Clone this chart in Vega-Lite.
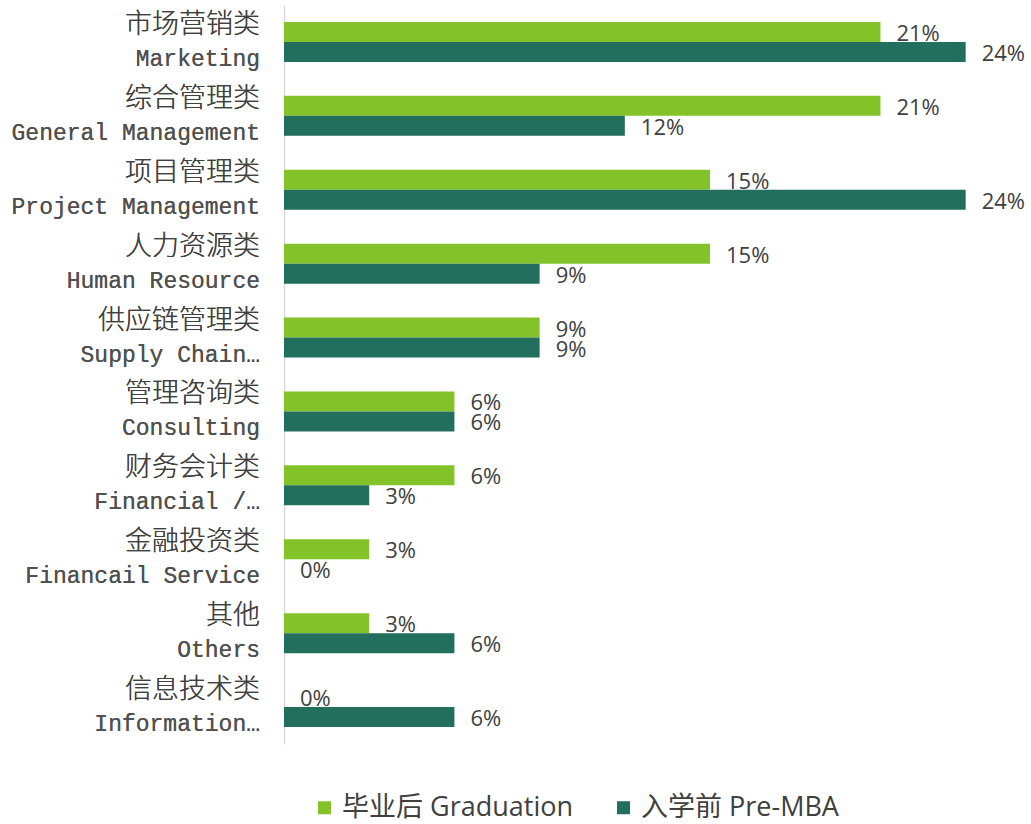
{
  "$schema": "https://vega.github.io/schema/vega-lite/v6.json",
  "width": 747,
  "height": 739,
  "autosize": {"type": "none"},
  "padding": {"left": 284, "top": 5, "right": 0, "bottom": 80},
  "background": "white",
  "config": {"view": {"stroke": null}},
  "data": {
    "values": [
      {"cn": "市场营销类", "en": "Marketing", "series": "毕业后 Graduation", "value": 0.21},
      {"cn": "市场营销类", "en": "Marketing", "series": "入学前 Pre-MBA", "value": 0.24},
      {"cn": "综合管理类", "en": "General Management", "series": "毕业后 Graduation", "value": 0.21},
      {"cn": "综合管理类", "en": "General Management", "series": "入学前 Pre-MBA", "value": 0.12},
      {"cn": "项目管理类", "en": "Project Management", "series": "毕业后 Graduation", "value": 0.15},
      {"cn": "项目管理类", "en": "Project Management", "series": "入学前 Pre-MBA", "value": 0.24},
      {"cn": "人力资源类", "en": "Human Resource", "series": "毕业后 Graduation", "value": 0.15},
      {"cn": "人力资源类", "en": "Human Resource", "series": "入学前 Pre-MBA", "value": 0.09},
      {"cn": "供应链管理类", "en": "Supply Chain…", "series": "毕业后 Graduation", "value": 0.09},
      {"cn": "供应链管理类", "en": "Supply Chain…", "series": "入学前 Pre-MBA", "value": 0.09},
      {"cn": "管理咨询类", "en": "Consulting", "series": "毕业后 Graduation", "value": 0.06},
      {"cn": "管理咨询类", "en": "Consulting", "series": "入学前 Pre-MBA", "value": 0.06},
      {"cn": "财务会计类", "en": "Financial /…", "series": "毕业后 Graduation", "value": 0.06},
      {"cn": "财务会计类", "en": "Financial /…", "series": "入学前 Pre-MBA", "value": 0.03},
      {"cn": "金融投资类", "en": "Financail Service", "series": "毕业后 Graduation", "value": 0.03},
      {"cn": "金融投资类", "en": "Financail Service", "series": "入学前 Pre-MBA", "value": 0.0},
      {"cn": "其他", "en": "Others", "series": "毕业后 Graduation", "value": 0.03},
      {"cn": "其他", "en": "Others", "series": "入学前 Pre-MBA", "value": 0.06},
      {"cn": "信息技术类", "en": "Information…", "series": "毕业后 Graduation", "value": 0.0},
      {"cn": "信息技术类", "en": "Information…", "series": "入学前 Pre-MBA", "value": 0.06}
    ]
  },
  "encoding": {
    "y": {
      "field": "cn",
      "type": "nominal",
      "sort": null,
      "scale": {"paddingInner": 0.459, "paddingOuter": 0.2295},
      "axis": {"labels": false, "ticks": false, "title": null, "domainColor": "#D9D9D9", "domainWidth": 1.5}
    }
  },
  "layer": [
    {
      "mark": {"type": "bar"},
      "encoding": {
        "x": {
          "field": "value",
          "type": "quantitative",
          "scale": {"domain": [0, 0.263], "nice": false},
          "axis": null
        },
        "yOffset": {
          "field": "series",
          "type": "nominal",
          "sort": ["毕业后 Graduation", "入学前 Pre-MBA"],
          "scale": {"paddingInner": 0, "paddingOuter": 0}
        },
        "color": {
          "field": "series",
          "type": "nominal",
          "scale": {
            "domain": ["毕业后 Graduation", "入学前 Pre-MBA"],
            "range": ["#84C22A", "#236F5E"]
          },
          "legend": {
            "title": null,
            "orient": "none",
            "direction": "horizontal",
            "legendX": 27,
            "legendY": 789,
            "symbolType": "square",
            "symbolSize": 169,
            "symbolStrokeWidth": 0,
            "labelFont": "Open Sans, Noto Sans CJK SC",
            "labelFontSize": 27,
            "labelColor": "#404040",
            "labelOffset": 4,
            "columnPadding": 36,
            "labelLimit": 400,
            "padding": 0
          }
        }
      }
    },
    {
      "mark": {"type": "text", "align": "left", "baseline": "middle", "dx": 16, "dy": 2, "font": "Open Sans", "fontSize": 22, "color": "#404040"},
      "encoding": {
        "x": {"field": "value", "type": "quantitative"},
        "yOffset": {"field": "series", "type": "nominal", "sort": ["毕业后 Graduation", "入学前 Pre-MBA"]},
        "text": {"field": "value", "type": "quantitative", "format": ".0%"}
      }
    },
    {
      "mark": {"type": "text", "align": "right", "baseline": "middle", "dx": -24, "dy": -17, "font": "Noto Sans CJK SC", "fontSize": 27, "fontWeight": 300, "color": "#404040"},
      "encoding": {
        "x": {"datum": 0, "type": "quantitative"},
        "text": {"field": "cn"}
      }
    },
    {
      "mark": {"type": "text", "align": "right", "baseline": "middle", "dx": -24, "dy": 17, "font": "Liberation Mono", "fontSize": 23, "color": "#505050"},
      "encoding": {
        "x": {"datum": 0, "type": "quantitative"},
        "text": {"field": "en"}
      }
    }
  ]
}
